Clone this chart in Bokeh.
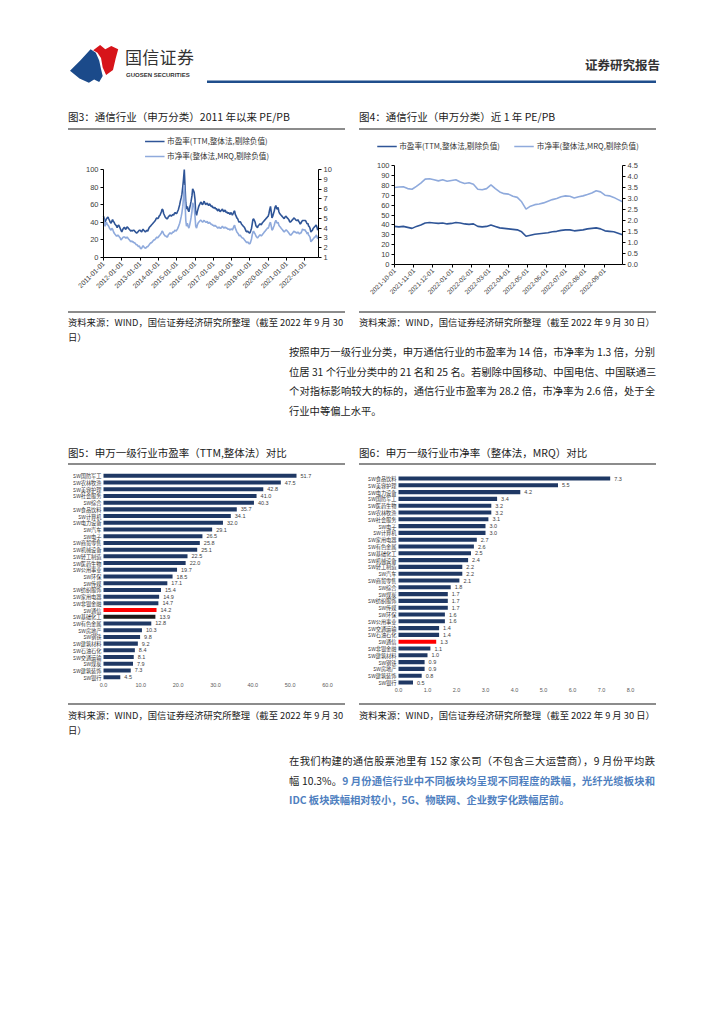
import math
import pandas as pd
from bokeh.plotting import figure
from bokeh.models import (Range1d, LinearAxis, FixedTicker, DatetimeTickFormatter,
                          PrintfTickFormatter, Legend, LegendItem, ColumnDataSource,
                          Div, Spacer)
from bokeh.layouts import column, row
from bokeh.embed import file_html
from bokeh.resources import INLINE
from bokeh.core.properties import value

CJK = "Noto Sans CJK SC"
NUM = "Liberation Sans"
DARK = "#2F5597"
LIGHT = "#8FAADC"
NAVY = "#1F3864"
TXT = "#404040"
RULE = "#8c8c8c"

# ---------------- data: Fig 3 (semi-monthly, 2011-01 .. 2022-09) ----------------
pe3 = [
    47, 44, 40, 42, 44, 45, 46, 44, 42, 40, 39, 41, 43, 41, 40, 38, 37, 36, 34, 36, 37, 35, 33, 31,   # 2011
    29, 31, 33, 34, 34, 32, 33, 35, 34, 33, 32, 31, 30, 31, 30, 31, 31, 30, 29, 28, 28, 29, 30, 31,   # 2012
    31, 30, 29, 31, 32, 31, 30, 29, 30, 31, 30, 32, 34, 35, 36, 37, 38, 39, 40, 41, 42, 44, 45, 44,   # 2013
    45, 47, 48, 50, 52, 55, 54, 50, 48, 46, 45, 44, 44, 46, 47, 48, 48, 47, 48, 49, 48, 50, 51, 50,   # 2014
    50, 52, 54, 57, 60, 64, 68, 72, 80, 88, 100, 82, 62, 55, 58, 54, 52, 56, 60, 64, 70, 78, 76, 74,  # 2015
    66, 50, 48, 52, 55, 58, 60, 62, 63, 61, 60, 62, 64, 62, 60, 61, 62, 60, 59, 61, 60, 58, 59, 57,   # 2016
    57, 56, 57, 55, 56, 54, 53, 55, 54, 52, 53, 54, 55, 53, 52, 54, 53, 51, 52, 50, 51, 50, 49, 51,   # 2017
    50, 48, 50, 52, 53, 49, 47, 45, 44, 42, 40, 41, 40, 38, 37, 36, 35, 34, 32, 30, 29, 30, 29, 28,   # 2018
    28, 30, 33, 38, 43, 44, 42, 40, 36, 35, 34, 36, 37, 38, 38, 37, 39, 40, 41, 42, 43, 44, 45, 46,   # 2019
    47, 50, 55, 58, 52, 45, 47, 50, 53, 57, 59, 56, 55, 57, 52, 50, 49, 48, 47, 46, 45, 44, 46, 47,   # 2020
    46, 45, 44, 43, 41, 40, 41, 42, 43, 44, 45, 44, 43, 42, 42, 43, 41, 40, 38, 39, 41, 42, 42, 42,   # 2021
    42, 42, 40, 38, 39, 36, 35, 33, 29, 30, 31, 33, 34, 35, 36, 37, 34, 31,                           # 2022
]
pb3 = [
    5.0, 4.6, 4.2, 4.4, 4.6, 4.4, 4.3, 4.2, 4.0, 3.9, 3.8, 4.0, 3.9, 3.7, 3.5, 3.4, 3.3, 3.2, 3.2, 3.3, 3.2, 3.1, 3.0, 2.8,
    2.9, 3.0, 3.1, 3.1, 3.1, 3.0, 3.0, 3.1, 3.0, 2.9, 2.8, 2.7, 2.6, 2.7, 2.6, 2.6, 2.5, 2.5, 2.4, 2.3, 2.3, 2.2, 2.1, 2.2,
    2.0, 1.9, 1.95, 2.1, 2.2, 2.1, 2.0, 1.95, 2.0, 2.1, 2.1, 2.2, 2.3, 2.4, 2.5, 2.5, 2.6, 2.7, 2.8, 2.8, 2.9, 3.0, 3.1, 3.0,
    3.1, 3.2, 3.3, 3.4, 3.5, 3.7, 3.6, 3.4, 3.3, 3.2, 3.2, 3.1, 3.1, 3.3, 3.4, 3.5, 3.5, 3.4, 3.5, 3.6, 3.6, 3.7, 3.8, 3.7,
    3.8, 3.9, 4.1, 4.3, 4.5, 4.8, 5.2, 5.6, 6.2, 7.0, 8.4, 6.8, 4.8, 4.2, 4.5, 4.2, 4.0, 4.3, 4.7, 5.1, 5.7, 6.6, 6.4, 6.1,
    5.2, 4.2, 4.0, 4.3, 4.5, 4.6, 4.7, 4.8, 4.8, 4.7, 4.6, 4.7, 4.8, 4.7, 4.6, 4.6, 4.7, 4.5, 4.5, 4.6, 4.5, 4.4, 4.4, 4.3,
    4.3, 4.2, 4.3, 4.2, 4.2, 4.1, 4.0, 4.1, 4.1, 4.0, 4.0, 4.1, 4.2, 4.1, 4.0, 4.1, 4.1, 4.0, 4.0, 3.9, 3.9, 3.9, 3.8, 3.9,
    3.9, 3.8, 4.0, 4.2, 4.3, 4.0, 3.8, 3.6, 3.5, 3.4, 3.2, 3.3, 3.2, 3.1, 3.0, 3.0, 2.9, 2.8, 2.7, 2.6, 2.5, 2.6, 2.5, 2.4,
    2.4, 2.6, 2.9, 3.3, 3.6, 3.7, 3.5, 3.4, 3.2, 3.1, 3.0, 3.1, 3.2, 3.3, 3.3, 3.2, 3.3, 3.4, 3.5, 3.6, 3.7, 3.8, 3.9, 4.0,
    4.0, 4.2, 4.5, 4.6, 4.2, 3.8, 3.9, 4.1, 4.3, 4.6, 4.8, 4.6, 4.5, 4.6, 4.3, 4.2, 4.1, 4.0, 3.9, 3.8, 3.7, 3.6, 3.7, 3.8,
    3.8, 3.7, 3.6, 3.5, 3.4, 3.3, 3.3, 3.4, 3.5, 3.6, 3.7, 3.6, 3.6, 3.5, 3.5, 3.6, 3.5, 3.4, 3.5, 3.5, 3.7, 3.9, 3.85, 3.8,
    3.85, 3.7, 3.6, 3.4, 3.6, 3.3, 3.2, 3.05, 2.6, 2.7, 2.8, 2.9, 3.0, 3.1, 3.1, 3.3, 3.15, 2.9,
]
f3_ticks = ["2011-01-01", "2012-01-01", "2013-01-01", "2014-01-01", "2015-01-01", "2016-01-01",
            "2017-01-01", "2018-01-01", "2019-01-01", "2020-01-01", "2021-01-01", "2022-01-01"]

# ---------------- data: Fig 4 (weekly, 2021-10-01 .. 2022-09-30) ----------------
pe4 = [38.5, 38, 38.5, 37.5, 36.5,
       38.5, 40, 42, 42.5,
       42, 41.5, 42, 41, 41.5,
       42.5, 42, 41, 40.5,
       41, 38.5, 38, 38.5,
       40, 38.5, 37, 36.5,
       36, 35.5, 35, 33, 28.5,
       29.5, 30.5, 31, 31.5,
       32, 33, 33.5, 34.5,
       35, 35, 34, 34.5, 35,
       36, 36.5, 37, 36,
       34, 33.5, 33, 31.5, 30]
pb4 = [3.50, 3.52, 3.53, 3.45, 3.42,
       3.55, 3.70, 3.88, 3.90,
       3.85, 3.80, 3.85, 3.78, 3.82,
       3.85, 3.75, 3.68, 3.72,
       3.65, 3.42, 3.40, 3.45,
       3.62, 3.45, 3.30, 3.22,
       3.20, 3.10, 3.05, 2.85, 2.52,
       2.65, 2.72, 2.75, 2.80,
       2.88, 2.95, 3.00, 3.08,
       3.12, 3.10, 3.02, 3.08, 3.12,
       3.18, 3.25, 3.35, 3.30,
       3.15, 3.12, 3.05, 2.95, 2.85]
f4_ticks = ["2021-10-01", "2021-11-01", "2021-12-01", "2022-01-01", "2022-02-01", "2022-03-01",
            "2022-04-01", "2022-05-01", "2022-06-01", "2022-07-01", "2022-08-01", "2022-09-01"]

# ---------------- data: Fig 5 / Fig 6 ----------------
cats5 = ["SW国防军工", "SW农林牧渔", "SW美容护理", "SW社会服务", "SW综合", "SW食品饮料",
         "SW计算机", "SW电力设备", "SW汽车", "SW电子", "SW商贸零售", "SW机械设备",
         "SW轻工制造", "SW医药生物", "SW公用事业", "SW环保", "SW传媒", "SW纺织服饰",
         "SW家用电器", "SW非银金融", "SW通信", "SW基础化工", "SW有色金属", "SW房地产",
         "SW钢铁", "SW建筑材料", "SW石油石化", "SW交通运输", "SW煤炭", "SW建筑装饰", "SW银行"]
pe5 = [51.7, 47.5, 42.8, 41.0, 40.3, 35.7, 34.1, 32.0, 29.1, 26.5, 25.8, 25.1, 22.5, 22.0,
       19.7, 18.5, 17.1, 15.4, 14.9, 14.7, 14.2, 13.9, 12.8, 10.3, 9.8, 9.2, 8.4, 8.1, 7.9, 7.3, 4.5]
ticks5 = [0, 10, 20, 30, 40, 50, 60]

cats6 = ["SW食品饮料", "SW美容护理", "SW电力设备", "SW国防军工", "SW医药生物", "SW农林牧渔",
         "SW社会服务", "SW电子", "SW计算机", "SW家用电器", "SW有色金属", "SW基础化工",
         "SW机械设备", "SW轻工制造", "SW汽车", "SW商贸零售", "SW综合", "SW煤炭", "SW纺织服饰",
         "SW传媒", "SW环保", "SW公用事业", "SW交通运输", "SW石油石化", "SW通信", "SW非银金融",
         "SW建筑材料", "SW钢铁", "SW房地产", "SW建筑装饰", "SW银行"]
pb6 = [7.3, 5.5, 4.2, 3.4, 3.2, 3.2, 3.1, 3.0, 3.0, 2.7, 2.6, 2.5, 2.4, 2.2, 2.2, 2.1, 1.8,
       1.7, 1.7, 1.7, 1.6, 1.6, 1.4, 1.4, 1.3, 1.1, 1.0, 0.9, 0.9, 0.8, 0.5]
ticks6 = [0, 1, 2, 3, 4, 5, 6, 7, 8]

LEG_PE = "市盈率(TTM,整体法,剔除负值)"
LEG_PB = "市净率(整体法,MRQ,剔除负值)"

# ---------------- layout constants (page pixels) ----------------
BD = 2                                  # common border of every plot (all axes are fixed inside)
ROW1_TOP, ROW1_H = 130, 178
ROW2_TOP, ROW2_H = 465, 235
COL_A, W_A = 68, 277                     # left column plots
COL_B, W_B = 359, 297                    # right column plots


def ms(d):
    return pd.Timestamp(d).value // 10**6


def hide_title(p):
    p.title.visible = False
    p.title.text_font_size = "0px"


def style_axis(ax, size="7.5px"):
    ax.axis_line_color = "#000000"
    ax.axis_line_width = 1
    ax.major_tick_line_color = "#000000"
    ax.major_tick_out = 3
    ax.major_tick_in = 0
    ax.minor_tick_line_color = None
    ax.minor_tick_out = 0
    ax.minor_tick_in = 0
    ax.major_label_text_font = NUM
    ax.major_label_text_font_size = size
    ax.major_label_text_color = TXT
    ax.major_label_standoff = 2


def base_fig(w, h, xr, yr, **kw):
    p = figure(width=w, height=h, x_range=xr, y_range=yr, toolbar_location=None,
               output_backend="svg", min_border_left=BD, min_border_right=BD,
               min_border_top=BD, min_border_bottom=BD, **kw)
    hide_title(p)
    p.xgrid.visible = False
    p.ygrid.visible = False
    p.outline_line_color = None
    return p


def line_fig(dates, pe, pb, x0, x1, xticks, lticks, rbounds, rticks, rfmt, col_left, w,
             px_x0, px_x1, px_100, px_0, leg_orient, leg_margin, xfont, leg_font,
             leg_glyph, leg_spacing):
    # frame covers the whole figure; axes are placed at data locations inside it
    f_l, f_r = col_left + BD, col_left + w - BD
    f_t, f_b = ROW1_TOP + BD, ROW1_TOP + ROW1_H - BD
    sx = (px_x1 - px_x0) / (ms(x1) - ms(x0))
    xr = Range1d(ms(x0) - (px_x0 - f_l) / sx, ms(x1) + (f_r - px_x1) / sx)
    s = (px_0 - px_100) / 100.0
    ymax = 100 + (px_100 - f_t) / s
    ymin = -(f_b - px_0) / s
    r0, r1v = rbounds
    k = (r1v - r0) / 100.0
    p = base_fig(w, ROW1_H, xr, Range1d(ymin, ymax), x_axis_type="datetime")
    p.extra_y_ranges = {"pb": Range1d(r0 + k * ymin, r0 + k * ymax)}
    src = ColumnDataSource(dict(d=dates, pe=pe, pb=pb))
    r1 = p.line(x="d", y="pe", source=src, line_color=DARK, line_width=1.6)
    r2 = p.line(x="d", y="pb", source=src, line_color=LIGHT, line_width=1.6, y_range_name="pb")
    xa = p.xaxis[0]
    xa.ticker = FixedTicker(ticks=[ms(t) for t in xticks])
    xa.formatter = DatetimeTickFormatter(years="%Y-%m-%d", months="%Y-%m-%d", days="%Y-%m-%d")
    xa.major_label_orientation = math.pi / 4
    xa.fixed_location = 0
    xa.bounds = (ms(x0), ms(x1))
    style_axis(xa, xfont)
    ya = p.yaxis[0]
    ya.ticker = FixedTicker(ticks=lticks)
    ya.bounds = (0, 100)
    ya.fixed_location = ms(x0)
    style_axis(ya)
    rax = LinearAxis(y_range_name="pb", ticker=FixedTicker(ticks=rticks), bounds=rbounds,
                     fixed_location=ms(x1))
    if rfmt:
        rax.formatter = PrintfTickFormatter(format=rfmt)
    style_axis(rax)
    p.add_layout(rax, "right")
    leg = Legend(items=[LegendItem(label=LEG_PE, renderers=[r1]),
                        LegendItem(label=LEG_PB, renderers=[r2])],
                 location="top_center", orientation=leg_orient,
                 label_text_font=CJK, label_text_font_size=leg_font, label_text_color="#333333",
                 glyph_width=leg_glyph, glyph_height=10, label_height=10, label_standoff=3,
                 spacing=leg_spacing,
                 padding=0, margin=leg_margin, border_line_color=None, background_fill_alpha=0)
    p.add_layout(leg)
    return p


def bar_fig(cats, vals, colors, xmax, xticks, col_left, w, px_zero, px_max,
            px_first, px_last, px_axis):
    n = len(cats)
    pos = list(range(n - 1, -1, -1))      # first category on top
    f_l, f_r = col_left + BD, col_left + w - BD
    f_t, f_b = ROW2_TOP + BD, ROW2_TOP + ROW2_H - BD
    sx = (px_max - px_zero) / xmax
    xr = Range1d(-(px_zero - f_l) / sx, xmax + (f_r - px_max) / sx)
    pitch = (px_last - px_first) / (n - 1)
    yr = Range1d(-(f_b - px_last) / pitch, (px_last - f_t) / pitch)
    p = base_fig(w, ROW2_H, xr, yr)
    src = ColumnDataSource(dict(y=pos, v=vals, col=colors, lab=["%.1f" % v for v in vals]))
    p.hbar(y="y", left=0, right="v", height=0.6, fill_color="col", line_color=None, source=src)
    p.text(x="v", y="y", text="lab", x_offset=4, text_baseline="middle", text_align="left",
           text_font=value(NUM), text_font_size="5.5px", text_color=TXT, source=src)
    for ax in (p.xaxis[0], p.yaxis[0]):
        ax.axis_line_color = None
        ax.major_tick_line_color = None
        ax.minor_tick_line_color = None
        ax.major_tick_out = 0
        ax.major_tick_in = 0
        ax.minor_tick_out = 0
        ax.minor_tick_in = 0
        ax.major_label_standoff = 2
    xa = p.xaxis[0]
    xa.ticker = FixedTicker(ticks=xticks)
    xa.formatter = PrintfTickFormatter(format="%.1f")
    xa.fixed_location = -(px_axis - px_last) / pitch
    xa.major_label_text_font = NUM
    xa.major_label_text_font_size = "5.5px"
    xa.major_label_text_color = "#595959"
    ya = p.yaxis[0]
    ya.ticker = FixedTicker(ticks=pos)
    ya.major_label_overrides = {y: c for y, c in zip(pos, cats)}
    ya.fixed_location = 0
    ya.major_label_text_font = CJK
    ya.major_label_text_font_size = "5.2px"
    ya.major_label_text_color = "#333333"
    return p


dates3 = pd.date_range("2011-01-01", periods=len(pe3), freq="SMS")
dates4 = pd.date_range("2021-10-01", periods=len(pe4), freq="7D")

p3 = line_fig(dates3, pe3, pb3, "2011-01-01", "2022-09-30", f3_ticks,
              [0, 20, 40, 60, 80, 100], (1, 10), list(range(1, 11)), None, COL_A, W_A,
              103, 318, 169, 257, "vertical", 3, "6.8px", "7.6px", 20, 4)
p4 = line_fig(dates4, pe4, pb4, "2021-10-01", "2022-09-30", f4_ticks,
              list(range(0, 101, 10)), (0, 4.5), [i * 0.5 for i in range(10)], "%.1f", COL_B, W_B,
              394, 622, 165, 264, "horizontal", 8, "6.5px", "7.6px", 20, 14)


def bar_colors(cats, black=None):
    out = []
    for c in cats:
        if c == "SW通信":
            out.append("#FF0000")
        elif c == black:
            out.append("#1c1c1c")
        else:
            out.append(NAVY)
    return out


p5 = bar_fig(cats5, pe5, bar_colors(cats5, "SW基础化工"), 60, ticks5, COL_A, W_A,
             103, 327, 475.3, 676.7, 680)
p6 = bar_fig(cats6, pb6, bar_colors(cats6), 8, ticks6, COL_B, W_B,
             398, 630, 478, 682, 685.5)

# ---------------- HTML text blocks ----------------
BASE = f"font-family:'{CJK}';color:#1a1a1a;"


def box(left, top, width, inner, extra=""):
    return (f'<div style="position:absolute;left:{left}px;top:{top}px;width:{width}px;'
            f'box-sizing:content-box;white-space:nowrap;{extra}">{inner}</div>')


def page_block(w, h, inner):
    return f'<div style="position:relative;width:{w}px;height:{h}px;{BASE}">{inner}</div>'


def para(lines, lh=19.6):
    out = []
    for i, ln in enumerate(lines):
        last = (i == len(lines) - 1)
        al = "text-align:left;" if last else "text-align:justify;text-align-last:justify;"
        out.append(f'<div style="height:{lh}px;line-height:{lh}px;white-space:nowrap;{al}">{ln}</div>')
    return "".join(out)


logo_blue = "70,70.8 80.3,60.5 90.6,49.3 95.8,52.7 99.2,60.5 101,69.1 102.7,76 99.2,82 94.1,79.4 88.9,82.8 79.5,78.5"
logo_red = "93.2,50.2 100.1,45 105.3,49.3 111.3,45.9 118.2,49.3 115.6,58.8 113,69.9 106.1,75.1 102.7,67.4 101,57.9 97.5,52.7"
header_html = page_block(596, 96,
    '<svg style="position:absolute;left:0;top:0" width="596" height="96" viewBox="68 8 596 96">'
    f'<polygon points="{logo_blue}" fill="#1B4A8A"/>'
    f'<polygon points="{logo_red}" fill="#D7141A"/>'
    '<rect x="207" y="80.5" width="449" height="2.5" fill="#1F4E8C"/>'
    '</svg>'
    + box(57, 39.5, 80, "国信证券", "font-size:17px;line-height:18px;color:#333;letter-spacing:0.3px;")
    + box(58, 64, 80, "GUOSEN SECURITIES", f"font-family:'{NUM}';font-size:6px;line-height:7px;font-weight:bold;color:#333;")
    + box(517, 50, 80, "证券研究报告", "font-size:12.5px;line-height:13px;font-weight:bold;color:#333;")
)

T1 = "padding-top:2px;height:22px;line-height:22px;font-size:10.5px;border-bottom:2px solid " + RULE + ";"
titles1_html = page_block(588, 26,
    box(0, 0, 277, "图3：通信行业（申万分类）2011 年以来 PE/PB", T1)
    + box(291, 0, 297, "图4：通信行业（申万分类）近 1 年 PE/PB", T1))

NOTE = "border-top:2px solid " + RULE + ";padding-top:2px;font-size:9.3px;line-height:15px;"
NOTE_L = "资料来源：WIND，国信证券经济研究所整理（截至 2022 年 9 月 30<br>日）"
NOTE_R = "资料来源：WIND，国信证券经济研究所整理（截至 2022 年 9 月 30 日）"
T2 = "height:20px;line-height:20px;font-size:10.5px;border-bottom:2px solid " + RULE + ";"

p1_lines = ["按照申万一级行业分类，申万通信行业的市盈率为 14 倍，市净率为 1.3 倍，分别",
            "位居 31 个行业分类中的 21 名和 25 名。若剔除中国移动、中国电信、中国联通三",
            "个对指标影响较大的标的，通信行业市盈率为 28.2 倍，市净率为 2.6 倍，处于全",
            "行业中等偏上水平。"]
mid_html = page_block(588, 157,
    box(0, 3, 277, NOTE_L, NOTE)
    + box(291, 3, 297, NOTE_R, NOTE)
    + box(221, 34, 366, para(p1_lines), "font-size:10.3px;")
    + box(0, 135, 277, "图5：申万一级行业市盈率（TTM,整体法）对比", T2)
    + box(291, 135, 297, "图6：申万一级行业市净率（整体法，MRQ）对比", T2))

BLUE = '<span style="color:#4F7FC0;font-weight:bold;">{}</span>'
p2_lines = ["在我们构建的通信股票池里有 152 家公司（不包含三大运营商），9 月份平均跌",
            "幅 10.3%。" + BLUE.format("9 月份通信行业中不同板块均呈现不同程度的跌幅，光纤光缆板块和"),
            BLUE.format("IDC 板块跌幅相对较小，5G、物联网、企业数字化跌幅居前。")]
NOTE2 = "border-top:2px solid " + RULE + ";padding-top:3px;font-size:9.3px;line-height:15px;"
bottom_html = page_block(588, 125,
    box(0, 3, 277, NOTE_L, NOTE2)
    + box(291, 3, 297, NOTE_R, NOTE2)
    + box(221, 51, 366, para(p2_lines), "font-size:10.3px;"))

header = Div(text=header_html, width=596, height=96, margin=0)
titles1 = Div(text=titles1_html, width=588, height=26, margin=0)
mid = Div(text=mid_html, width=588, height=157, margin=0)
bottom = Div(text=bottom_html, width=588, height=125, margin=0)

charts1 = row(p3, Spacer(width=COL_B - COL_A - W_A, height=ROW1_H, margin=0), p4)
charts2 = row(p5, Spacer(width=COL_B - COL_A - W_A, height=ROW2_H, margin=0), p6)
page = row(Spacer(width=COL_A, height=10, margin=0),
           column(Spacer(width=10, height=8, margin=0), header, titles1, charts1, mid, charts2, bottom))

open("out.html", "w").write(file_html(page, INLINE, title="通信行业 PE/PB"))
